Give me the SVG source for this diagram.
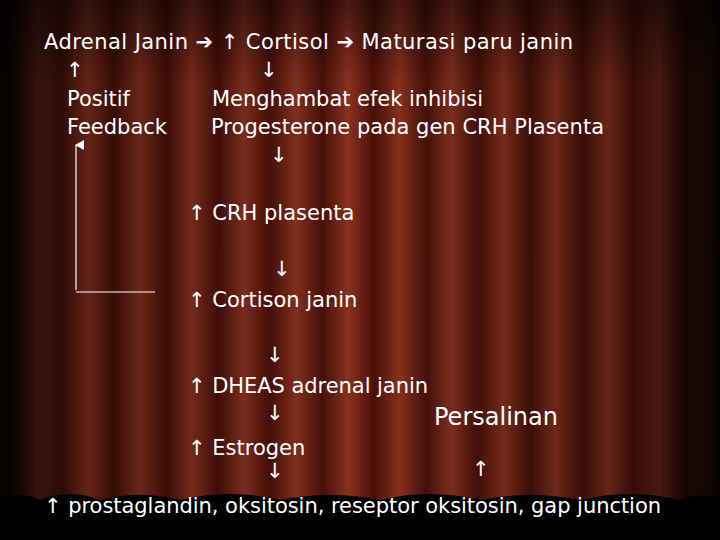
<svg xmlns="http://www.w3.org/2000/svg" width="720" height="540" viewBox="0 0 720 540">
<defs>
<linearGradient id="stripe" x1="0" y1="0" x2="1" y2="0">
<stop offset="0" stop-color="#4a1008"/><stop offset="0.5" stop-color="#8a3220"/><stop offset="1" stop-color="#4a1008"/>
</linearGradient>
<pattern id="curtain" width="52" height="540" patternUnits="userSpaceOnUse" x="10">
<rect width="52" height="540" fill="url(#stripe)"/>
</pattern>
<linearGradient id="vig" x1="0" y1="0" x2="1" y2="0">
<stop offset="0" stop-color="#000" stop-opacity="0.95"/><stop offset="0.1" stop-color="#000" stop-opacity="0.3"/>
<stop offset="0.5" stop-color="#000" stop-opacity="0"/>
<stop offset="0.88" stop-color="#000" stop-opacity="0.3"/><stop offset="1" stop-color="#000" stop-opacity="0.95"/>
</linearGradient>
<linearGradient id="top" x1="0" y1="0" x2="0" y2="1">
<stop offset="0" stop-color="#000" stop-opacity="0.5"/><stop offset="0.15" stop-color="#000" stop-opacity="0"/>
</linearGradient>
<marker id="ah" markerWidth="10" markerHeight="10" refX="5" refY="1" orient="auto-start-reverse" markerUnits="userSpaceOnUse">
<path d="M0,9 L5,0 L10,9 Z" fill="#fff"/>
</marker>
<style>
text{font-family:"DejaVu Sans",sans-serif;font-size:21px;fill:#fff}
.big{font-size:24px}
</style>
</defs>
<rect width="720" height="540" fill="#3a0c06"/>
<rect width="720" height="540" fill="url(#curtain)"/>
<rect width="720" height="540" fill="url(#vig)"/>
<rect width="720" height="540" fill="url(#top)"/>
<path d="M0,540 L0,500 Q20,490 40,500 Q70,488 100,500 Q140,490 180,500 Q230,488 280,500 Q330,490 380,500 Q430,488 480,500 Q530,490 580,500 Q630,488 680,500 Q700,492 720,498 L720,540 Z" fill="#000"/>
<g id="connectors">
<line x1="76" y1="290" x2="76" y2="145" stroke="#fff" stroke-width="1.2" marker-end="url(#ah)"/>
<line x1="76" y1="292" x2="155" y2="292" stroke="#fff" stroke-width="1.2"/>
</g>
<g id="texts">
<text x="44" y="49" textLength="529" lengthAdjust="spacing">Adrenal Janin  ➔  ↑ Cortisol  ➔ Maturasi paru janin</text>
<text x="66" y="77">↑</text>
<text x="260" y="77">↓</text>
<text x="67" y="106">Positif</text>
<text x="212" y="106" textLength="271" lengthAdjust="spacing">Menghambat efek inhibisi</text>
<text x="67" y="134" textLength="100" lengthAdjust="spacing">Feedback</text>
<text x="211" y="134" textLength="393" lengthAdjust="spacing">Progesterone pada gen CRH Plasenta</text>
<text x="270" y="162">↓</text>
<text x="188" y="220">↑ CRH plasenta</text>
<text x="273" y="276">↓</text>
<text x="188" y="307">↑ Cortison janin</text>
<text x="266" y="362">↓</text>
<text x="188" y="393" textLength="240" lengthAdjust="spacing">↑ DHEAS adrenal janin</text>
<text x="266" y="420">↓</text>
<text x="434" y="425" class="big">Persalinan</text>
<text x="188" y="455">↑ Estrogen</text>
<text x="266" y="478">↓</text>
<text x="472" y="476">↑</text>
<text x="44" y="513" textLength="617" lengthAdjust="spacing">↑ prostaglandin, oksitosin, reseptor oksitosin, gap junction</text>
</g>
</svg>
